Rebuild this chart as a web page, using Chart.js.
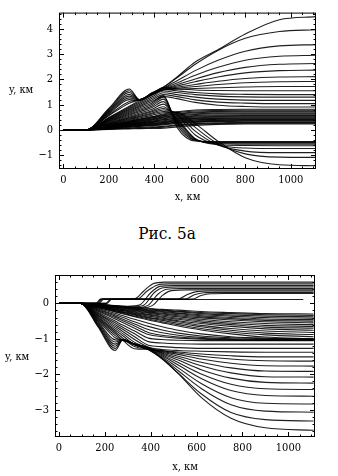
<!DOCTYPE html>
<html>
<head>
<meta charset="utf-8">
<script src="https://cdn.jsdelivr.net/npm/chart.js@4.4.0/dist/chart.umd.min.js"></script>
<style>
  body { margin: 0; background: #fff; width: 338px; height: 476px; position: relative; overflow: hidden; }
  .box { position: absolute; left: 0; width: 330px; }
  .txt { position: absolute; font-family: "DejaVu Serif Condensed", "DejaVu Serif", serif; color: #000; white-space: nowrap; }
</style>
</head>
<body>
<div class="box" style="top:0;height:206px"><canvas id="chartTop"></canvas></div>
<div class="txt" style="left:9px;top:83px;font-size:11px">y, км</div>
<div class="txt" style="left:0;width:334px;text-align:center;top:223px;font-size:17px;line-height:20px">Рис. 5а</div>
<div class="box" style="top:262px;height:214px"><canvas id="chartBottom"></canvas></div>
<div class="txt" style="left:5px;top:350px;font-size:11px">y, км</div>
<script>
// --- upper picture: x-grid shared by all its curves (km) ---
const topX = [0, 100, 200, 290, 335, 390, 440, 500, 580, 680, 800, 950, 1110];

// curves that pass the first hump and climb to the top levels
const topClimb = [
  [0, 0, 0.85, 1.62, 1.20, 1.47, 1.70, 2.10, 2.69, 3.18, 3.80, 4.37, 4.49],
  [0, 0, 0.82, 1.55, 1.20, 1.46, 1.68, 2.07, 2.60, 3.15, 3.63, 3.90, 3.97],
  [0, 0, 0.78, 1.48, 1.19, 1.45, 1.66, 1.95, 2.35, 2.76, 3.12, 3.33, 3.38],
  [0, 0, 0.74, 1.41, 1.19, 1.44, 1.64, 1.86, 2.17, 2.48, 2.76, 2.92, 2.96],
  [0, 0, 0.71, 1.34, 1.18, 1.43, 1.62, 1.79, 2.02, 2.27, 2.48, 2.60, 2.63],
  [0, 0, 0.67, 1.27, 1.18, 1.42, 1.61, 1.74, 1.91, 2.10, 2.26, 2.35, 2.37],
  [0, 0, 0.63, 1.20, 1.17, 1.41, 1.60, 1.69, 1.80, 1.93, 2.04, 2.10, 2.11],
  [0, 0, 0.59, 1.13, 1.19, 1.40, 1.59, 1.65, 1.72, 1.80, 1.87, 1.91, 1.92],
  [0, 0, 0.56, 1.06, 1.19, 1.39, 1.58, 1.61, 1.64, 1.67, 1.70, 1.72, 1.72]
];
// curves that stay near the second hump level
const topLevel = [
  [0, 0, 0.49, 0.94, 1.16, 1.43, 1.68, 1.63, 1.58, 1.56, 1.55, 1.55, 1.55],
  [0, 0, 0.47, 0.90, 1.11, 1.37, 1.61, 1.55, 1.48, 1.43, 1.41, 1.40, 1.40],
  [0, 0, 0.45, 0.86, 1.06, 1.31, 1.54, 1.48, 1.40, 1.34, 1.31, 1.30, 1.30],
  [0, 0, 0.43, 0.82, 1.01, 1.25, 1.47, 1.40, 1.30, 1.22, 1.18, 1.17, 1.17],
  [0, 0, 0.41, 0.78, 0.96, 1.19, 1.40, 1.32, 1.19, 1.10, 1.06, 1.04, 1.04],
  [0, 0, 0.39, 0.74, 0.92, 1.13, 1.32, 1.24, 1.09, 0.98, 0.93, 0.91, 0.91]
];
// curves falling below zero after the second hump
const topFall = [
  [0, 0, 0.37, 0.70, 0.87, 1.07, 1.36, 0.10, -0.44, -0.46, -0.46, -0.46, -0.46],
  [0, 0, 0.35, 0.66, 0.82, 1.01, 1.30, 0.20, -0.42, -0.48, -0.48, -0.48, -0.48],
  [0, 0, 0.33, 0.62, 0.77, 0.95, 1.22, 0.28, -0.40, -0.50, -0.50, -0.50, -0.50],
  [0, 0, 0.31, 0.58, 0.72, 0.89, 1.12, 0.34, -0.38, -0.52, -0.53, -0.53, -0.53],
  [0, 0, 0.28, 0.54, 0.67, 0.82, 1.02, 0.40, -0.36, -0.54, -0.57, -0.57, -0.57],
  [0, 0, 0.26, 0.50, 0.62, 0.76, 0.92, 0.45, -0.35, -0.58, -0.62, -0.63, -0.63],
  [0, 0, 0.25, 0.47, 0.58, 0.72, 0.85, 0.58, -0.20, -0.60, -0.72, -0.74, -0.74],
  [0, 0, 0.23, 0.44, 0.54, 0.67, 0.79, 0.65, -0.05, -0.60, -0.84, -0.90, -0.90],
  [0, 0, 0.22, 0.41, 0.51, 0.63, 0.73, 0.70, 0.10, -0.55, -0.95, -1.08, -1.09],
  [0, 0, 0.20, 0.38, 0.47, 0.58, 0.68, 0.70, 0.25, -0.45, -1.10, -1.38, -1.42]
];
// low curves forming the dense band
const topBand = [
  [0, 0, 0.18, 0.35, 0.43, 0.53, 0.63, 0.72, 0.79, 0.81, 0.82, 0.82, 0.82],
  [0, 0, 0.18, 0.34, 0.42, 0.51, 0.60, 0.69, 0.75, 0.77, 0.78, 0.78, 0.78],
  [0, 0, 0.17, 0.32, 0.40, 0.49, 0.57, 0.65, 0.71, 0.73, 0.74, 0.74, 0.74],
  [0, 0, 0.16, 0.31, 0.38, 0.47, 0.55, 0.62, 0.68, 0.70, 0.71, 0.71, 0.71],
  [0, 0, 0.15, 0.29, 0.36, 0.44, 0.52, 0.59, 0.64, 0.66, 0.67, 0.67, 0.67],
  [0, 0, 0.15, 0.28, 0.34, 0.42, 0.50, 0.56, 0.61, 0.63, 0.64, 0.64, 0.64],
  [0, 0, 0.14, 0.26, 0.32, 0.40, 0.47, 0.53, 0.57, 0.59, 0.60, 0.60, 0.60],
  [0, 0, 0.13, 0.25, 0.30, 0.38, 0.44, 0.50, 0.54, 0.56, 0.57, 0.57, 0.57],
  [0, 0, 0.12, 0.23, 0.28, 0.35, 0.41, 0.47, 0.51, 0.53, 0.54, 0.54, 0.54],
  [0, 0, 0.12, 0.22, 0.27, 0.33, 0.39, 0.45, 0.48, 0.50, 0.51, 0.51, 0.51],
  [0, 0, 0.11, 0.20, 0.25, 0.31, 0.36, 0.42, 0.45, 0.47, 0.48, 0.48, 0.48],
  [0, 0, 0.10, 0.19, 0.23, 0.29, 0.33, 0.39, 0.43, 0.45, 0.46, 0.46, 0.46],
  [0, 0, 0.09, 0.17, 0.21, 0.26, 0.30, 0.36, 0.40, 0.42, 0.43, 0.43, 0.43],
  [0, 0, 0.08, 0.16, 0.19, 0.24, 0.28, 0.34, 0.38, 0.40, 0.41, 0.41, 0.41],
  [0, 0, 0.07, 0.14, 0.17, 0.21, 0.25, 0.31, 0.35, 0.37, 0.38, 0.38, 0.38],
  [0, 0, 0.07, 0.13, 0.16, 0.19, 0.23, 0.29, 0.33, 0.35, 0.36, 0.36, 0.36],
  [0, 0, 0.06, 0.11, 0.14, 0.17, 0.20, 0.26, 0.30, 0.33, 0.34, 0.34, 0.34],
  [0, 0, 0.04, 0.08, 0.10, 0.12, 0.14, 0.20, 0.25, 0.28, 0.30, 0.30, 0.30],
  [0, 0, 0.03, 0.06, 0.07, 0.09, 0.11, 0.17, 0.22, 0.25, 0.27, 0.27, 0.27],
  [0, 0, 0.02, 0.04, 0.05, 0.06, 0.07, 0.12, 0.18, 0.22, 0.24, 0.24, 0.24]
];

// --- lower picture ---
const botX = [0, 95, 170, 245, 280, 330, 390, 450, 520, 620, 750, 900, 1110];

// curves through both troughs, going down to the deepest levels
const botDeep = [
  [0, 0, -0.66, -1.33, -1.02, -1.17, -1.31, -1.57, -1.98, -2.65, -3.24, -3.51, -3.58],
  [0, 0, -0.63, -1.27, -1.02, -1.17, -1.30, -1.56, -1.97, -2.55, -3.08, -3.28, -3.32],
  [0, 0, -0.60, -1.21, -1.02, -1.16, -1.29, -1.54, -1.90, -2.40, -2.86, -3.04, -3.07],
  [0, 0, -0.57, -1.15, -1.03, -1.16, -1.28, -1.51, -1.82, -2.26, -2.66, -2.82, -2.84],
  [0, 0, -0.54, -1.09, -1.03, -1.15, -1.27, -1.48, -1.74, -2.12, -2.46, -2.60, -2.62],
  [0, 0, -0.51, -1.03, -1.04, -1.15, -1.26, -1.45, -1.67, -1.99, -2.28, -2.41, -2.43],
  [0, 0, -0.48, -0.97, -1.05, -1.15, -1.25, -1.42, -1.60, -1.87, -2.11, -2.23, -2.25],
  [0, 0, -0.45, -0.91, -1.04, -1.14, -1.24, -1.40, -1.54, -1.76, -1.96, -2.07, -2.08]
];
// middle curves levelling off between -1.05 and -1.9
const botMid = [
  [0, 0, -0.43, -0.85, -1.05, -1.28, -1.30, -1.38, -1.49, -1.66, -1.82, -1.91, -1.92],
  [0, 0, -0.40, -0.80, -0.99, -1.22, -1.29, -1.36, -1.44, -1.57, -1.69, -1.76, -1.77],
  [0, 0, -0.38, -0.75, -0.92, -1.17, -1.28, -1.34, -1.40, -1.49, -1.57, -1.62, -1.63],
  [0, 0, -0.35, -0.70, -0.86, -1.10, -1.26, -1.33, -1.37, -1.43, -1.48, -1.51, -1.51],
  [0, 0, -0.33, -0.65, -0.80, -1.02, -1.24, -1.30, -1.33, -1.35, -1.37, -1.38, -1.38],
  [0, 0, -0.30, -0.60, -0.74, -0.94, -1.18, -1.22, -1.25, -1.27, -1.27, -1.27, -1.27],
  [0, 0, -0.28, -0.55, -0.68, -0.86, -1.08, -1.12, -1.14, -1.15, -1.15, -1.15, -1.15],
  [0, 0, -0.25, -0.50, -0.62, -0.78, -0.98, -1.02, -1.04, -1.05, -1.05, -1.05, -1.05]
];
// curves filling the second dark region, ending near -1.0
const botFill = [
  [0, 0, -0.14, -0.28, -0.35, -0.45, -0.56, -0.66, -0.76, -0.86, -0.94, -0.98, -1.00],
  [0, 0, -0.16, -0.32, -0.40, -0.52, -0.65, -0.75, -0.84, -0.92, -0.97, -1.00, -1.01],
  [0, 0, -0.18, -0.36, -0.45, -0.58, -0.74, -0.83, -0.90, -0.96, -1.00, -1.02, -1.02],
  [0, 0, -0.20, -0.40, -0.50, -0.64, -0.82, -0.90, -0.95, -0.99, -1.02, -1.03, -1.03],
  [0, 0, -0.22, -0.44, -0.55, -0.70, -0.88, -0.94, -0.98, -1.01, -1.03, -1.04, -1.04]
];
// dark band of slowly sinking curves (-0.3 ... -1.0 at the right edge)
const botBand = [
  [0, 0, -0.04, -0.07, -0.09, -0.11, -0.14, -0.17, -0.19, -0.23, -0.26, -0.29, -0.30],
  [0, 0, -0.04, -0.08, -0.10, -0.13, -0.16, -0.19, -0.22, -0.26, -0.29, -0.32, -0.34],
  [0, 0, -0.05, -0.09, -0.11, -0.14, -0.18, -0.21, -0.24, -0.29, -0.33, -0.36, -0.38],
  [0, 0, -0.05, -0.10, -0.13, -0.16, -0.20, -0.23, -0.27, -0.32, -0.36, -0.40, -0.42],
  [0, 0, -0.06, -0.11, -0.14, -0.17, -0.22, -0.25, -0.29, -0.35, -0.40, -0.44, -0.46],
  [0, 0, -0.06, -0.12, -0.15, -0.19, -0.24, -0.28, -0.32, -0.38, -0.43, -0.48, -0.50],
  [0, 0, -0.07, -0.13, -0.17, -0.21, -0.26, -0.30, -0.35, -0.41, -0.47, -0.52, -0.55],
  [0, 0, -0.07, -0.14, -0.18, -0.23, -0.28, -0.33, -0.38, -0.45, -0.52, -0.57, -0.60],
  [0, 0, -0.08, -0.16, -0.20, -0.25, -0.31, -0.36, -0.42, -0.49, -0.56, -0.62, -0.65],
  [0, 0, -0.08, -0.17, -0.21, -0.27, -0.33, -0.39, -0.45, -0.53, -0.60, -0.67, -0.70],
  [0, 0, -0.09, -0.18, -0.23, -0.29, -0.36, -0.42, -0.49, -0.57, -0.65, -0.72, -0.76],
  [0, 0, -0.10, -0.20, -0.25, -0.31, -0.39, -0.45, -0.52, -0.62, -0.71, -0.78, -0.82],
  [0, 0, -0.11, -0.21, -0.26, -0.33, -0.41, -0.48, -0.56, -0.66, -0.76, -0.84, -0.88],
  [0, 0, -0.11, -0.23, -0.28, -0.36, -0.44, -0.52, -0.60, -0.71, -0.81, -0.89, -0.94],
  [0, 0, -0.12, -0.24, -0.30, -0.38, -0.47, -0.55, -0.64, -0.75, -0.86, -0.95, -1.00]
];
// curves that step up above zero, as [x, y] points
const botRise = [
  [[0, 0], [160, 0], [182, 0.12], [330, 0.13], [370, 0.35], [410, 0.55], [460, 0.6], [1110, 0.6]],
  [[0, 0], [210, 0], [230, 0.12], [340, 0.12], [385, 0.35], [430, 0.52], [480, 0.55], [1110, 0.55]],
  [[0, 0], [95, 0], [300, -0.08], [350, -0.05], [400, 0.3], [440, 0.48], [500, 0.5], [1110, 0.5]],
  [[0, 0], [95, 0], [320, -0.1], [370, -0.05], [415, 0.3], [455, 0.44], [520, 0.46], [1110, 0.46]],
  [[0, 0], [95, 0], [340, -0.12], [390, -0.05], [430, 0.25], [470, 0.4], [530, 0.42], [1110, 0.42]],
  [[0, 0], [95, 0], [360, -0.13], [410, -0.05], [450, 0.22], [490, 0.36], [560, 0.38], [1110, 0.38]],
  [[0, 0], [165, 0], [185, 0.12], [520, 0.12], [560, 0.25], [600, 0.33], [660, 0.35], [1110, 0.35]],
  [[0, 0], [170, 0], [190, 0.12], [550, 0.12], [590, 0.24], [630, 0.3], [690, 0.31], [1110, 0.31]],
  [[0, 0], [175, 0], [195, 0.12], [580, 0.12], [620, 0.22], [660, 0.27], [720, 0.28], [1110, 0.28]],
  [[0, 0], [205, 0], [225, 0.11], [1065, 0.11]]
];

const lineColor = 'rgba(0,0,0,0.88)';
const serif = '"DejaVu Serif Condensed", "DejaVu Serif", serif';

function fromGrid(xs, rows) {
  return rows.map(r => r.map((v, i) => ({ x: xs[i], y: v })));
}
function fromPairs(rows) {
  return rows.map(r => r.map(p => ({ x: p[0], y: p[1] })));
}
function toDatasets(curves) {
  return curves.map(pts => ({
    data: pts,
    borderColor: lineColor,
    borderWidth: 1.1,
    pointRadius: 0,
    fill: false,
    cubicInterpolationMode: 'monotone'
  }));
}
function minus(v) {
  return String(v).replace('-', '\u2212');
}

// frame with inward ticks on every side, like the original plots
const framePlugin = {
  id: 'frame',
  afterDatasetsDraw(chart) {
    const { ctx, chartArea: a, scales: { x, y } } = chart;
    ctx.save();
    ctx.strokeStyle = '#000';
    ctx.lineWidth = 1;
    ctx.strokeRect(a.left + 0.5, a.top + 0.5, a.right - a.left - 1, a.bottom - a.top - 1);
    ctx.beginPath();
    for (let k = Math.ceil(x.min / 50); k * 50 <= x.max; k++) {
      const px = Math.round(x.getPixelForValue(k * 50)) + 0.5;
      const len = k % 4 === 0 ? 5 : 2.5;
      ctx.moveTo(px, a.bottom); ctx.lineTo(px, a.bottom - len);
      ctx.moveTo(px, a.top); ctx.lineTo(px, a.top + len);
    }
    for (let k = Math.ceil(y.min * 5); k / 5 <= y.max; k++) {
      const py = Math.round(y.getPixelForValue(k / 5)) + 0.5;
      const len = k % 5 === 0 ? 5 : 2.5;
      ctx.moveTo(a.left, py); ctx.lineTo(a.left + len, py);
      ctx.moveTo(a.right, py); ctx.lineTo(a.right - len, py);
    }
    ctx.stroke();
    ctx.restore();
  }
};

function makeChart(id, datasets, o) {
  return new Chart(document.getElementById(id), {
    type: 'line',
    data: { datasets },
    plugins: [framePlugin],
    options: {
      responsive: true,
      maintainAspectRatio: false,
      animation: false,
      events: [],
      layout: { padding: { top: o.padTop, right: o.padRight, left: 0, bottom: 0 } },
      plugins: { legend: { display: false }, tooltip: { enabled: false } },
      scales: {
        x: {
          type: 'linear',
          min: o.xMin, max: o.xMax,
          grid: { display: false, drawTicks: false },
          border: { display: false },
          ticks: { stepSize: 200, includeBounds: false, padding: 5, color: '#000', font: { family: serif, size: 11 }, maxRotation: 0, callback: v => minus(v) },
          title: { display: true, text: 'x, км', color: '#000', font: { family: serif, size: 11 }, padding: { top: 0, bottom: 2 } },
          afterFit: s => { s.height = o.xHeight; }
        },
        y: {
          min: o.yMin, max: o.yMax,
          grid: { display: false, drawTicks: false },
          border: { display: false },
          ticks: { stepSize: 1, includeBounds: false, padding: 6, color: '#000', font: { family: serif, size: 11 }, callback: v => minus(v) },
          afterFit: s => { s.width = o.yWidth; }
        }
      }
    }
  });
}

makeChart('chartTop',
  toDatasets([].concat(
    fromGrid(topX, topClimb), fromGrid(topX, topLevel),
    fromGrid(topX, topFall), fromGrid(topX, topBand))),
  { xMin: -19, xMax: 1111, yMin: -1.55, yMax: 4.65, padTop: 10, padRight: 14, xHeight: 37, yWidth: 59 });

makeChart('chartBottom',
  toDatasets([].concat(
    fromGrid(botX, botDeep), fromGrid(botX, botMid), fromGrid(botX, botFill),
    fromGrid(botX, botBand), fromPairs(botRise))),
  { xMin: -17, xMax: 1116, yMin: -3.77, yMax: 0.8, padTop: 13, padRight: 15, xHeight: 39, yWidth: 55 });
</script>
</body>
</html>
